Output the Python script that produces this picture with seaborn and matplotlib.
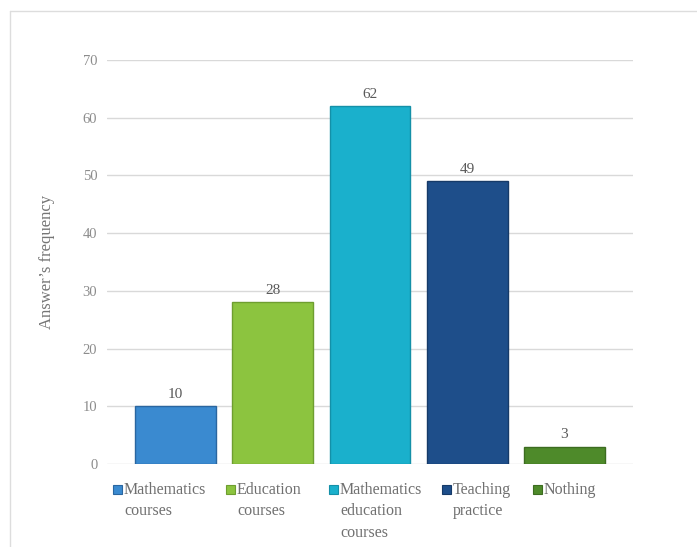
import matplotlib
matplotlib.use("Agg")
import matplotlib.pyplot as plt
import seaborn as sns
import pandas as pd
from matplotlib.patches import Rectangle
from matplotlib.lines import Line2D

categories = ["Mathematics courses", "Education courses", "Mathematics education courses",
              "Teaching practice", "Nothing"]
legend_labels = ["Mathematics\ncourses", "Education\ncourses", "Mathematics\neducation\ncourses",
                 "Teaching\npractice", "Nothing"]
values = [10, 28, 62, 49, 3]
colors = ["#3A8AD0", "#8CC43F", "#1AB0CC", "#1E4E8A", "#4E8A2A"]
edge_colors = ["#2A66A0", "#6E9E30", "#1490A8", "#163A68", "#3C6C20"]
y_ticks = [0, 10, 20, 30, 40, 50, 60, 70]

sns.set_style("white")
plt.rcParams["font.family"] = ["Liberation Serif", "DejaVu Serif"]

W, H = 697, 547
df = pd.DataFrame({"cat": categories, "val": values})

fig = plt.figure(figsize=(W / 100, H / 100), dpi=100)
ax = fig.add_axes([107/W, 1 - 464/H, (633 - 107)/W, (464 - 60)/H])

sns.barplot(data=df, x="cat", y="val", hue="cat", palette=colors, legend=False,
            width=0.83, saturation=1, ax=ax, zorder=3)
for p, ec in zip(ax.patches, edge_colors):
    p.set_edgecolor(ec)
    p.set_linewidth(1.0)

ax.set_ylim(0, 70)
ax.set_xlim(-0.5 - 0.205, 4.5 + 0.205)
ax.set_yticks(y_ticks)
ax.yaxis.grid(True, color="#D9D9D9", linewidth=1.0, zorder=0)
ax.set_axisbelow(True)
for s in ax.spines.values():
    s.set_visible(False)
ax.set_xticks([])
ax.set_xlabel("")
ax.tick_params(axis="y", length=0, pad=7, labelsize=10.5, labelcolor="#8C8C8C")
ax.set_ylabel("Answer\u2019s frequency", fontsize=12, color="#757575", labelpad=20)

for i, v in enumerate(values):
    ax.annotate(str(v), (i, v), xytext=(0, 4), textcoords="offset points",
                ha="center", va="bottom", fontsize=11, color="#595959")

# legend (below the plot), handles aligned with first text line
leg_handle_x = [113, 226, 329, 442, 533]
leg_text_x = [124, 237, 340, 453, 544]
leg_top = 482
for hx, tx, lab, c, e in zip(leg_handle_x, leg_text_x, legend_labels, colors, edge_colors):
    fig.add_artist(Rectangle((hx / W, 1 - 494 / H), 9 / W, 9 / H, transform=fig.transFigure,
                             facecolor=c, edgecolor=e, linewidth=0.8))
    fig.text(tx / W, 1 - leg_top / H, lab, ha="left", va="top", fontsize=11.5,
             color="#707070", linespacing=1.45)

# outer frame
fig.add_artist(Line2D([10/W, 10/W], [0, 1 - 11/H], transform=fig.transFigure,
                      color="#DDDDDD", linewidth=1.0))
fig.add_artist(Line2D([10/W, 1], [1 - 11/H, 1 - 11/H], transform=fig.transFigure,
                      color="#DDDDDD", linewidth=1.0))

fig.savefig("out.png", dpi=100, facecolor="white")
